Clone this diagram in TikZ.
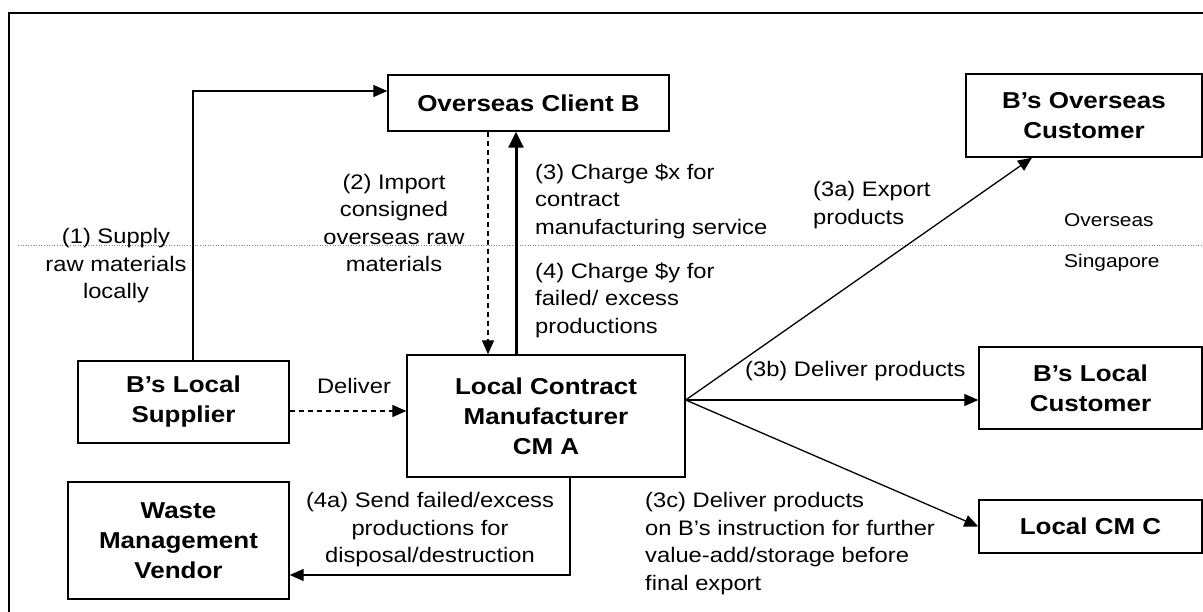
\documentclass[tikz,border=0pt]{standalone}
\usepackage{fontspec}
\setmainfont{Liberation Sans}[FakeStretch=1.13]
\usetikzlibrary{arrows.meta}
\begin{document}
\begin{tikzpicture}[x=1pt,y=-1pt,
  box/.style={draw, line width=1.4pt, inner sep=0pt, align=center,
    font=\bfseries\fontsize{23}{30}\selectfont},
  lbl/.style={inner sep=0pt, font=\fontsize{21}{27.5}\selectfont},
  small/.style={inner sep=0pt, anchor=west, font=\fontsize{18.5}{22}\selectfont},
  arr/.style={line width=1.3pt, -{Triangle[length=14pt,width=12pt]}},
  thickarr/.style={line width=3pt, -{Triangle[length=16pt,width=15pt]}},
  border/.style={line width=2pt},
  divider/.style={gray, line width=0.9pt, dash pattern=on 1pt off 1.6pt}]
\useasboundingbox (0,0) rectangle (1203,612);
% frame
\draw[border] (1203,13) -- (9,13) -- (9,612);
% divider
\coordinate (dl) at (18,245);
\coordinate (dr) at (1203,245);
\draw[divider] (dl) -- (dr);
% boxes
\node[box, minimum width=281pt, minimum height=56pt] (clientB) at (528.5,103) {Overseas Client B};
\node[box, minimum width=236pt, minimum height=83pt] (oscust) at (1084,115.5) {B’s Overseas\\Customer};
\node[box, minimum width=211pt, minimum height=82pt] (supplier) at (183.5,402) {B’s Local\\Supplier};
\node[box, minimum width=278pt, minimum height=122pt] (cma) at (546,416) {Local Contract\\Manufacturer\\CM A};
\node[box, minimum width=223pt, minimum height=82pt] (lcust) at (1090.5,388) {B’s Local\\Customer};
\node[box, minimum width=223pt, minimum height=53pt] (cmc) at (1090.5,526.5) {Local CM C};
\node[box, minimum width=221pt, minimum height=117pt] (waste) at (178.5,540.5) {Waste\\Management\\Vendor};
% connectors
\draw[arr] ([xshift=9.5pt]supplier.north) |- ([yshift=12pt]clientB.west);
\draw[arr, dashed, dash pattern=on 5pt off 4pt] ([xshift=-40.5pt]clientB.south) -- ([xshift=-58pt]cma.north);
\draw[thickarr] ([xshift=-30pt]cma.north) -- ([xshift=-12.5pt]clientB.south);
\draw[arr, dashed, dash pattern=on 5pt off 4pt] ([yshift=-9pt]supplier.east) -- ([yshift=-9pt]supplier.east -| cma.west);
\draw[arr] ([xshift=24pt]cma.south) |- ([yshift=-34.5pt]waste.east);
\coordinate (fan) at ([yshift=16pt]cma.east);
\draw[arr] (fan) -- ([xshift=-52pt]oscust.south);
\draw[arr] (fan) -- (fan -| lcust.west);
\draw[arr] (fan) -- (cmc.west);
% labels
\node[lbl, align=center] (l1) at (116,266) {(1) Supply\\raw materials\\locally};
\node[lbl, align=center] (l2) at (394,223) {(2) Import\\consigned\\overseas raw\\materials};
\node[lbl, align=left, anchor=west] (l3) at (535,201) {(3) Charge \$x for\\contract\\manufacturing service};
\node[lbl, align=left, anchor=west] (l4) at (535,300) {(4) Charge \$y for\\failed/ excess\\productions};
\node[lbl] (ldel) at (354,386) {Deliver};
\node[lbl, align=left, anchor=west] (l3a) at (813,205) {(3a) Export\\products};
\node[lbl, anchor=west] (l3b) at (745,371) {(3b) Deliver products};
\node[lbl, align=left, anchor=west] (l3c) at (645,543.5) {(3c) Deliver products\\on B’s instruction for further\\value-add/storage before\\final export};
\node[lbl, align=center] (l4a) at (430,530) {(4a) Send failed/excess\\productions for\\disposal/destruction};
\node[small] (ovs) at (1064,220) {Overseas};
\node[small] (sgp) at (1064,263) {Singapore};
\end{tikzpicture}
\end{document}
